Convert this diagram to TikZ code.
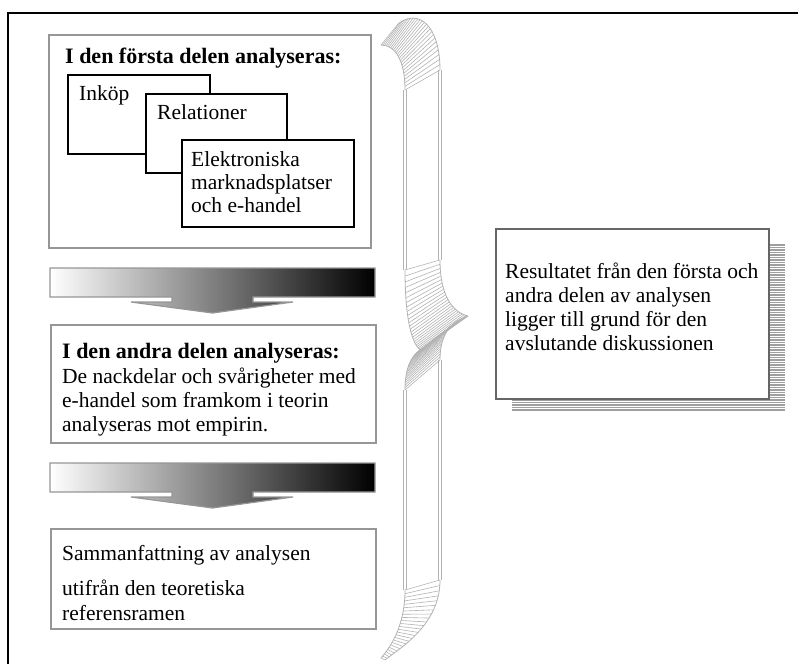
\documentclass[tikz,border=0pt]{standalone}
\usepackage{fontspec}
\setmainfont{Liberation Serif}
\usetikzlibrary{calc}

\definecolor{boxgray}{RGB}{150,150,150}
\definecolor{bracegray}{RGB}{178,178,178}

\tikzset{
  frameline/.style={draw=black, line width=1.6pt},
  panel/.style={draw=boxgray, line width=1.5pt, fill=white, inner sep=0pt, anchor=north west},
  card/.style={draw=black, line width=2pt, fill=white, inner sep=0pt, anchor=north west},
  txt/.style={inner sep=0pt, anchor=base west, font=\fontsize{21.5pt}{24pt}\selectfont},
  headtxt/.style={txt, font=\fontsize{22pt}{24pt}\selectfont\bfseries},
  bandarrow/.style={draw=boxgray, line width=1.2pt, left color=white, right color=black},
  braceline/.style={draw=bracegray, line width=0.8pt},
  bracerule/.style={draw=bracegray, line width=0.6pt},
  stripe/.style={draw=gray!75, line width=1.1pt},
}

% one curved part of the ribbon brace: two Bezier edges joined by rulings
\newcommand\ribbonpart[8]{%
  \foreach \k in {0,...,24}{%
    \pgfmathsetmacro\ribt{\k/24}%
    \path (#1) .. controls (#2) and (#3) .. (#4) coordinate[pos=\ribt] (ribL);
    \path (#5) .. controls (#6) and (#7) .. (#8) coordinate[pos=\ribt] (ribR);
    \draw[bracerule] (ribL) -- (ribR);
  }%
  \draw[braceline] (#1) .. controls (#2) and (#3) .. (#4);
  \draw[braceline] (#5) .. controls (#6) and (#7) .. (#8);
}
% straight part of the ribbon: each edge is a pair of thin lines
\newcommand\ribbonstraight[4]{%
  \draw[braceline] ($(#1)+(-1.3,0)$) -- ($(#2)+(-1.3,0)$);
  \draw[braceline] ($(#1)+(1.3,0)$) -- ($(#2)+(1.3,0)$);
  \draw[braceline] ($(#3)+(-1.3,0)$) -- ($(#4)+(-1.3,0)$);
  \draw[braceline] ($(#3)+(1.3,0)$) -- ($(#4)+(1.3,0)$);
}

\begin{document}
\begin{tikzpicture}[x=1pt,y=-1pt]
\useasboundingbox (0,0) rectangle (798,664);

% outer frame (only top and left edges fall inside the page)
\draw[frameline] (8,664) -- (8,13) -- (798,13);

% ---------- first part ----------
\node[panel, minimum width=322pt, minimum height=213pt] (part1) at (48,34) {};
\node[headtxt] (h1) at (65,63) {I den första delen analyseras:};
\node[card, minimum width=142pt, minimum height=79pt] (c1) at (67,74) {};
\node[txt] (c1t) at (79,100) {Inköp};
\node[card, minimum width=141pt, minimum height=79pt] (c2) at (145,93) {};
\node[txt] (c2t) at (157,119) {Relationer};
\node[card, minimum width=172pt, minimum height=87pt] (c3) at (181,139) {};
\node[txt] (c3a) at (191,166) {Elektroniska};
\node[txt] (c3b) at (191,189) {marknadsplatser};
\node[txt] (c3c) at (191,212) {och e-handel};

% ---------- block arrow 1 ----------
\draw[bandarrow] (50,268) -- (375,268) -- (375,297) -- (253,297) -- (253,302)
  -- (293,302) -- (212.5,313) -- (131,302) -- (172,302) -- (172,297) -- (50,297) -- cycle;

% ---------- second part ----------
\node[panel, minimum width=325pt, minimum height=118pt] (part2) at (50,324) {};
\node[headtxt] (h2) at (62,358) {I den andra delen analyseras:};
\node[txt] (p2a) at (62,383) {De nackdelar och svårigheter med};
\node[txt] (p2b) at (62,407) {e-handel som framkom i teorin};
\node[txt] (p2c) at (62,431) {analyseras mot empirin.};

% ---------- block arrow 2 ----------
\draw[bandarrow] (50,463) -- (375,463) -- (375,492) -- (253,492) -- (253,497)
  -- (293,497) -- (212.5,508) -- (131,497) -- (172,497) -- (172,492) -- (50,492) -- cycle;

% ---------- summary ----------
\node[panel, minimum width=325pt, minimum height=100pt] (part3) at (50,528) {};
\node[txt] (s1) at (62,560) {Sammanfattning av analysen};
\node[txt] (s2) at (62,595) {utifrån den teoretiska};
\node[txt] (s3) at (62,620) {referensramen};

% ---------- ribbon brace ----------
\ribbonpart{381,45}{395,45}{405,60}{405,90}{398,24}{418,8}{440,25}{440,70}
\ribbonstraight{405,90}{405,270}{440,70}{440,260}
\ribbonpart{405,270}{405,320}{412,343}{420,350}{440,260}{440,295}{452,312}{468,316}
\ribbonpart{420,350}{410,357}{405,370}{405,390}{468,316}{450,322}{440,335}{440,360}
\ribbonstraight{405,390}{405,590}{440,360}{440,580}
\ribbonpart{405,590}{405,620}{395,642}{381,658}{440,580}{440,625}{400,648}{385,660}

% ---------- result box with stacked sheets ----------
\foreach \yy in {245,247.5,...,410} \draw[stripe] (512,\yy) -- (785,\yy);
\node[panel, draw=gray!80!black, line width=2pt, minimum width=273pt, minimum height=170pt] (res) at (495,228) {};
\node[txt] (r1) at (505,278) {Resultatet från den första och};
\node[txt] (r2) at (505,302) {andra delen av analysen};
\node[txt] (r3) at (505,326) {ligger till grund för den};
\node[txt] (r4) at (505,350) {avslutande diskussionen};
\end{tikzpicture}
\end{document}
